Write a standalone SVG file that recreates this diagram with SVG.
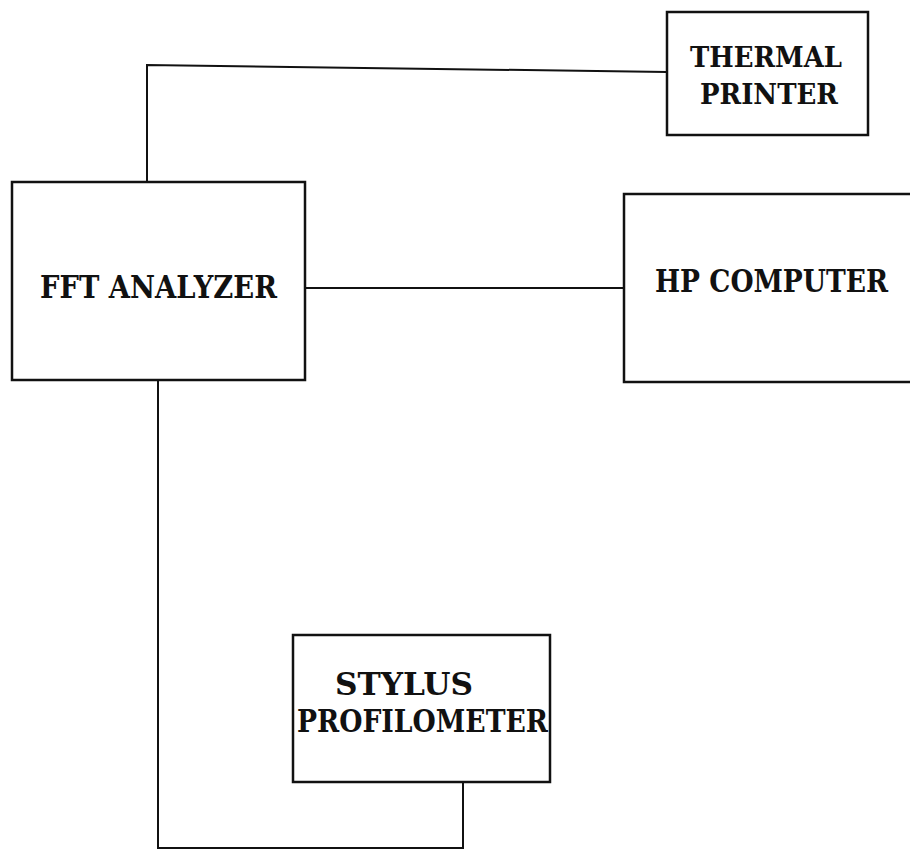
<svg xmlns="http://www.w3.org/2000/svg" width="910" height="852" viewBox="0 0 910 852">
<style>
.box{fill:#fff;stroke:#111;stroke-width:2.5}
.wire{fill:none;stroke:#111;stroke-width:2}
.lbl{font-family:"DejaVu Serif","Liberation Serif",serif;font-weight:bold;font-size:31px;fill:#111;text-anchor:start}
</style>
<rect width="910" height="852" fill="#fff"/>
<g id="connectors">
<polyline class="wire" points="147,182 147,65 667,72"/>
<line class="wire" x1="305" y1="288" x2="624" y2="288"/>
<polyline class="wire" points="158,380 158,848 463,848 463,782"/>
</g>
<g id="thermal-printer">
<rect class="box" x="667" y="12" width="201" height="123"/>
<text class="lbl" x="690" y="67" textLength="152" lengthAdjust="spacingAndGlyphs" style="font-size:28px">THERMAL</text>
<text class="lbl" x="700" y="104" textLength="138" lengthAdjust="spacingAndGlyphs" style="font-size:28px">PRINTER</text>
</g>
<g id="fft-analyzer">
<rect class="box" x="12" y="182" width="293" height="198"/>
<text class="lbl" x="40" y="298" textLength="237" lengthAdjust="spacingAndGlyphs">FFT ANALYZER</text>
</g>
<g id="hp-computer">
<rect class="box" x="624" y="194" width="300" height="188"/>
<text class="lbl" x="655" y="292" textLength="233" lengthAdjust="spacingAndGlyphs">HP COMPUTER</text>
</g>
<g id="stylus-profilometer">
<rect class="box" x="293" y="635" width="257" height="147"/>
<text class="lbl" x="335" y="695" textLength="138" lengthAdjust="spacingAndGlyphs">STYLUS</text>
<text class="lbl" x="297" y="732" textLength="251" lengthAdjust="spacingAndGlyphs">PROFILOMETER</text>
</g>
</svg>
